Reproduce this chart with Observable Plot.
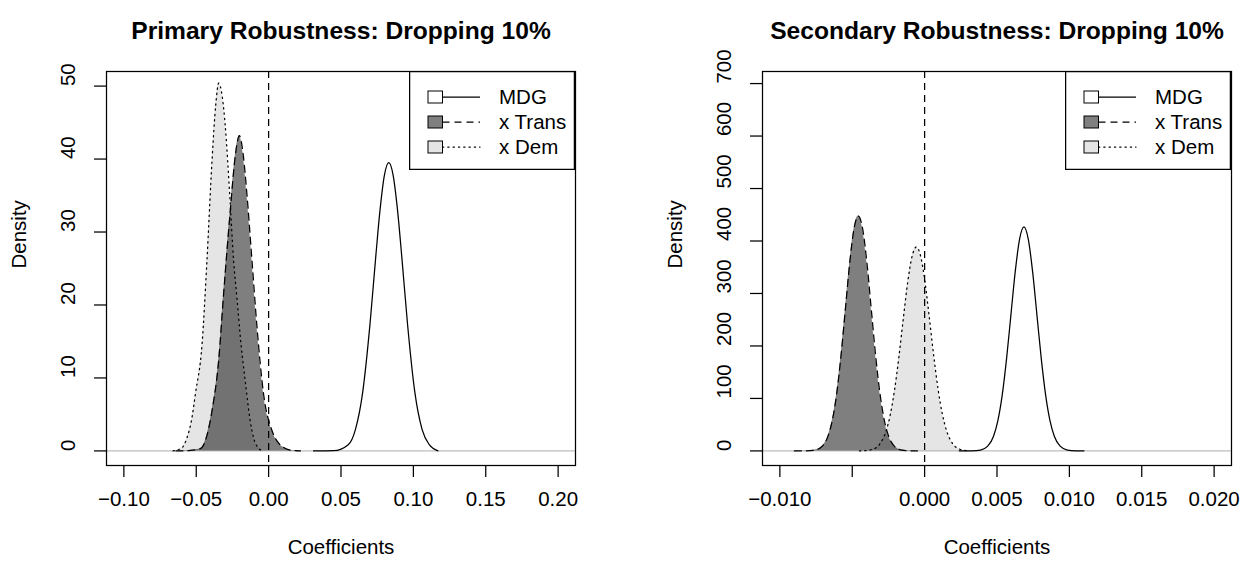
<!DOCTYPE html>
<html>
<head>
<meta charset="utf-8">
<script src="https://cdn.jsdelivr.net/npm/d3@7"></script>
<script src="https://cdn.jsdelivr.net/npm/@observablehq/plot@0.6"></script>
<style>
  body { margin: 0; background: #fff; font-family: "Liberation Sans", Arial, Helvetica, sans-serif; }
  #wrap { display: flex; width: 1252px; height: 569px; }
  .panel { position: relative; width: 626px; height: 569px; }
  .legend { position: absolute; }
</style>
</head>
<body>
<div id="wrap"></div>
<script>
// ---------------- Data ----------------
const seriesNames = ["MDG", "x Trans", "x Dem"];

// Primary Robustness: Dropping 10%
const primaryMdgX   = [0.031, 0.045, 0.055, 0.060, 0.065, 0.070, 0.074, 0.077, 0.080, 0.083, 0.086, 0.089, 0.092, 0.096, 0.101, 0.106, 0.111, 0.117];
const primaryMdgY   = [0, 0.03, 0.85, 2.96, 8.06, 17.3, 26.6, 33.1, 37.8, 39.5, 37.8, 33.1, 26.6, 17.3, 8.06, 2.96, 0.85, 0];
const primaryTransX = [-0.064, -0.055, -0.0472, -0.0437, -0.0391, -0.0345, -0.0311, -0.0265, -0.0230, -0.0202, -0.0175, -0.0150, -0.0115, -0.0080, -0.0035, 0.0023, 0.0060, 0.0104, 0.0150, 0.022];
const primaryTransY = [0, 0.05, 0.3, 1.4, 5.5, 12.4, 21.5, 32.9, 40.5, 43.2, 40.5, 35.2, 26.1, 16.9, 7.8, 2.8, 1.3, 0.46, 0.1, 0];
const primaryDemX   = [-0.066, -0.0600, -0.0564, -0.0530, -0.0506, -0.0460, -0.0426, -0.0391, -0.0365, -0.0345, -0.0320, -0.0299, -0.0269, -0.0242, -0.0219, -0.0190, -0.0161, -0.0130, -0.0104, -0.0075, -0.0040];
const primaryDemY   = [0, 0.4, 1.8, 4.5, 7.8, 14.6, 26.1, 39.8, 47.5, 50.4, 48.5, 44.4, 35.2, 26.1, 21.0, 14.5, 9.5, 4.5, 1.8, 0.5, 0];
const primaryXTicks  = [-0.10, -0.05, 0.00, 0.05, 0.10, 0.15, 0.20];
const primaryXLabels = ["\u22120.10", "\u22120.05", "0.00", "0.05", "0.10", "0.15", "0.20"];
const primaryYTicks  = [0, 10, 20, 30, 40, 50];

// Secondary Robustness: Dropping 10%
const secondaryMdgX   = [0.0024, 0.00326, 0.00386, 0.00436, 0.00476, 0.00506, 0.00536, 0.00566, 0.00596, 0.00626, 0.00656, 0.00686, 0.00716, 0.00746, 0.00776, 0.00806, 0.00836, 0.00866, 0.00896, 0.00936, 0.00986, 0.01046, 0.0110];
const secondaryMdgY   = [0, 0.14, 1.65, 9.0, 28.0, 57.7, 106.4, 175.4, 258.8, 341.7, 403.6, 426.7, 403.6, 341.7, 258.8, 175.4, 106.4, 57.7, 28.0, 9.0, 1.65, 0.14, 0];
const secondaryTransX = [-0.0090, -0.00818, -0.00758, -0.00708, -0.00668, -0.00638, -0.00608, -0.00578, -0.00548, -0.00518, -0.00488, -0.00458, -0.00428, -0.00398, -0.00368, -0.00338, -0.00308, -0.00278, -0.00248, -0.00208, -0.00158, -0.00098, -0.0005];
const secondaryTransY = [0, 0.13, 1.5, 8.7, 27.7, 57.9, 108.2, 180.4, 268.5, 356.7, 423, 447.6, 423, 356.7, 268.5, 180.4, 108.2, 57.9, 27.7, 8.7, 1.5, 0.13, 0];
const secondaryDemX   = [-0.0045, -0.00417, -0.00357, -0.00307, -0.00267, -0.00237, -0.00207, -0.00177, -0.00147, -0.00117, -0.00087, -0.00057, -0.00027, 0.00003, 0.00033, 0.00063, 0.00093, 0.00123, 0.00153, 0.00193, 0.00243, 0.00280, 0.0030];
const secondaryDemY   = [0, 0.4, 3.25, 14.0, 37.3, 69.4, 117.5, 180.8, 252.7, 321, 370.5, 388.6, 370.5, 321, 252.7, 180.8, 117.5, 69.4, 37.3, 14.0, 3.25, 0.8, 0];
const secondaryXTicks  = [-0.010, -0.005, 0.000, 0.005, 0.010, 0.015, 0.020];
const secondaryXLabels = ["\u22120.010", "", "0.000", "0.005", "0.010", "0.015", "0.020"];
const secondaryYTicks  = [0, 100, 200, 300, 400, 500, 600, 700];

// ---------------- Drawing ----------------
const FONT = "'Liberation Sans', Arial, Helvetica, sans-serif";
const FS = 20.5;
const LW = 1.25;
const DASH = "7,5";
const DOT = "1.3,4";
const curve = "monotone-x";
const zip = (xs, ys) => xs.map((x, i) => ({x, y: ys[i]}));

function panel(cfg) {
  const div = document.createElement("div");
  div.className = "panel";
  const W = 626, H = 569;
  const mdg = zip(cfg.mdgX, cfg.mdgY);
  const trans = zip(cfg.transX, cfg.transY);
  const dem = zip(cfg.demX, cfg.demY);

  const chart = Plot.plot({
    width: W, height: H,
    marginLeft: cfg.marginLeft, marginRight: cfg.marginRight,
    marginTop: 71, marginBottom: 104,
    style: { fontFamily: FONT, background: "#fff", color: "#000", overflow: "visible" },
    x: { domain: cfg.xDomain, axis: null },
    y: { domain: cfg.yDomain, axis: null },
    marks: [
      Plot.ruleY([0], { stroke: "#bebebe", strokeWidth: LW }),
      Plot.lineY(mdg, { x: "x", y: "y", stroke: "#000", strokeWidth: LW, curve }),
      Plot.areaY(trans, { x: "x", y: "y", fill: "#000", fillOpacity: 0.5, curve }),
      Plot.lineY(trans, { x: "x", y: "y", stroke: "#000", strokeWidth: LW, strokeDasharray: DASH, curve }),
      Plot.areaY(dem, { x: "x", y: "y", fill: "#000", fillOpacity: 0.1, curve }),
      Plot.lineY(dem, { x: "x", y: "y", stroke: "#000", strokeWidth: LW, strokeDasharray: DOT, strokeLinecap: "round", curve }),
      Plot.ruleX([0], { stroke: "#000", strokeWidth: LW, strokeDasharray: DASH }),
      Plot.frame({ stroke: "#000", strokeWidth: LW }),
      Plot.axisX({ ticks: cfg.xTicks, tickSize: 12, tickFormat: () => "", label: null, strokeWidth: LW }),
      Plot.text(cfg.xTicks, { x: d => d, text: (d, i) => cfg.xLabels[i], frameAnchor: "bottom", dy: 40, fontSize: FS, fill: "#000" }),
      Plot.axisY({ ticks: cfg.yTicks, tickSize: 12, tickFormat: () => "", label: null, strokeWidth: LW }),
      Plot.text(cfg.yTicks, { y: d => d, text: d => String(d), frameAnchor: "left", dx: -38, rotate: -90, fontSize: FS, fill: "#000" }),
      Plot.text(["Coefficients"], { frameAnchor: "bottom", dy: 88, fontSize: FS, fill: "#000" }),
      Plot.text(["Density"], { frameAnchor: "left", dx: -87, rotate: -90, fontSize: FS, fill: "#000" }),
      Plot.text([cfg.title], { frameAnchor: "top", dy: -50, fontSize: 24.6, fontWeight: "bold", fill: "#000" })
    ]
  });
  div.appendChild(chart);

  // Legend (top-right inside the plot box)
  const lw = 166, lh = 99;
  const lg = d3.create("svg").attr("class", "legend")
    .attr("width", lw).attr("height", lh)
    .style("left", (W - cfg.marginRight - lw) + "px").style("top", "71px");
  lg.append("rect").attr("x", LW / 2).attr("y", LW / 2).attr("width", lw - LW).attr("height", lh - LW)
    .attr("fill", "#fff").attr("stroke", "#000").attr("stroke-width", LW);
  const fills = ["#ffffff", "rgba(0,0,0,0.5)", "rgba(0,0,0,0.1)"];
  const dashes = [null, DASH, DOT];
  seriesNames.forEach((name, i) => {
    const cy = 26 + i * 25;
    lg.append("line").attr("x1", 33.5).attr("x2", 71).attr("y1", cy).attr("y2", cy)
      .attr("stroke", "#000").attr("stroke-width", LW).attr("stroke-dasharray", dashes[i])
      .attr("stroke-linecap", i === 2 ? "round" : "butt");
    lg.append("rect").attr("x", 19).attr("y", cy - 6).attr("width", 14.5).attr("height", 12)
      .attr("fill", fills[i]).attr("stroke", "#000").attr("stroke-width", 1);
    lg.append("text").attr("x", 90).attr("y", cy).attr("dy", "0.35em")
      .attr("font-family", FONT).attr("font-size", FS).text(name);
  });
  div.appendChild(lg.node());
  return div;
}

const wrap = document.getElementById("wrap");
wrap.appendChild(panel({
  title: "Primary Robustness: Dropping 10%",
  mdgX: primaryMdgX, mdgY: primaryMdgY,
  transX: primaryTransX, transY: primaryTransY,
  demX: primaryDemX, demY: primaryDemY,
  xTicks: primaryXTicks, xLabels: primaryXLabels, yTicks: primaryYTicks,
  xDomain: [-0.112, 0.212], yDomain: [-2, 52],
  marginLeft: 106, marginRight: 51
}));
wrap.appendChild(panel({
  title: "Secondary Robustness: Dropping 10%",
  mdgX: secondaryMdgX, mdgY: secondaryMdgY,
  transX: secondaryTransX, transY: secondaryTransY,
  demX: secondaryDemX, demY: secondaryDemY,
  xTicks: secondaryXTicks, xLabels: secondaryXLabels, yTicks: secondaryYTicks,
  xDomain: [-0.0112, 0.0212], yDomain: [-27.8, 723],
  marginLeft: 136, marginRight: 21
}));
</script>
</body>
</html>
